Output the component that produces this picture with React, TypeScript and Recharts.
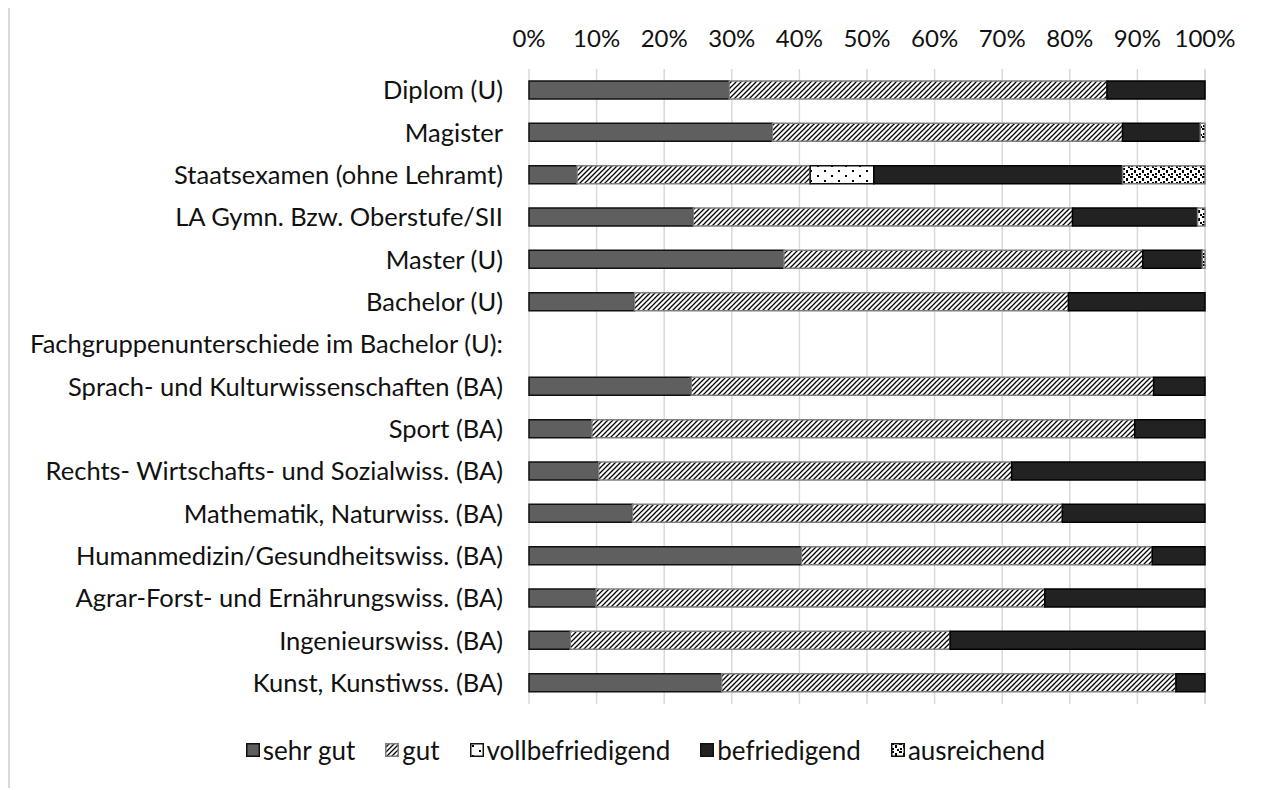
import { BarChart, Bar, XAxis, YAxis, CartesianGrid, Legend } from 'recharts'

const categories = [
  'Diplom (U)',
  'Magister',
  'Staatsexamen (ohne Lehramt)',
  'LA Gymn. Bzw. Oberstufe/SII',
  'Master (U)',
  'Bachelor (U)',
  'Fachgruppenunterschiede im Bachelor (U):',
  'Sprach- und Kulturwissenschaften (BA)',
  'Sport (BA)',
  'Rechts- Wirtschafts- und Sozialwiss. (BA)',
  'Mathematik, Naturwiss. (BA)',
  'Humanmedizin/Gesundheitswiss. (BA)',
  'Agrar-Forst- und Ernährungswiss. (BA)',
  'Ingenieurswiss. (BA)',
  'Kunst, Kunstiwss. (BA)'
]

const sehrGut = [29.6, 36.0, 7.1, 24.3, 37.7, 15.6, 0, 24.0, 9.3, 10.3, 15.3, 40.3, 9.9, 6.1, 28.5]
const gut = [55.9, 51.8, 34.5, 56.1, 53.1, 64.2, 0, 68.4, 80.3, 61.1, 63.6, 51.9, 66.4, 56.2, 67.2]
const vollbefriedigend = [0, 0, 9.4, 0, 0, 0, 0, 0, 0, 0, 0, 0, 0, 0, 0]
const befriedigend = [14.5, 11.5, 36.8, 18.5, 8.8, 20.2, 0, 7.6, 10.4, 28.6, 21.1, 7.8, 23.7, 37.7, 4.3]
const ausreichend = [0, 0.7, 12.2, 1.1, 0.4, 0, 0, 0, 0, 0, 0, 0, 0, 0, 0]

const xTicks = [0, 10, 20, 30, 40, 50, 60, 70, 80, 90, 100]

const data = categories.map((name, i) => ({
  name,
  sehrGut: sehrGut[i],
  gut: gut[i],
  vollbefriedigend: vollbefriedigend[i],
  befriedigend: befriedigend[i],
  ausreichend: ausreichend[i]
}))

const series = [
  { key: 'sehrGut', label: 'sehr gut', fill: '#5f5f5f', stroke: '#111' },
  { key: 'gut', label: 'gut', fill: 'url(#hatch)', stroke: '#808080' },
  { key: 'vollbefriedigend', label: 'vollbefriedigend', fill: 'url(#dots)', stroke: '#111' },
  { key: 'befriedigend', label: 'befriedigend', fill: '#222', stroke: '#000' },
  { key: 'ausreichend', label: 'ausreichend', fill: 'url(#checks)', stroke: '#808080' }
]

const labelFont = 'Lato, "Open Sans", sans-serif'

const LegendContent = () => (
  <div
    style={{
      display: 'flex',
      justifyContent: 'center',
      gap: 30,
      paddingLeft: 26,
      fontFamily: labelFont,
      fontSize: 26,
      color: '#111'
    }}
  >
    {series.map(s => (
      <span key={s.key} style={{ display: 'flex', alignItems: 'center' }}>
        <svg width={14} height={14} style={{ marginRight: 3 }}>
          <rect x={0.75} y={0.75} width={12.5} height={12.5} fill={s.fill} stroke={s.key === 'gut' ? '#808080' : '#111'} strokeWidth={1.5} />
        </svg>
        {s.label}
      </span>
    ))}
  </div>
)

const App = () => {
  return (
    <div
      style={{
        marginTop: -2,
        borderTop: '2px solid #d9d9d9',
        borderLeft: '2px solid #d9d9d9',
        width: 1255,
        height: 780,
        overflow: 'hidden',
        background: '#fff'
      }}
    >
      <BarChart
        width={1245}
        height={772}
        data={data}
        layout='vertical'
        margin={{ top: 0, right: 50, bottom: 76, left: 0 }}
        barSize={18}
      >
        <defs>
          <pattern id='hatch' width={5} height={5} patternUnits='userSpaceOnUse'>
            <rect width={5} height={5} fill='#fff' />
            <path d='M-1,6 L6,-1 M-1,1 L1,-1 M4,6 L6,4' stroke='#000' strokeWidth={1.3} />
          </pattern>
          <pattern id='dots' width={14} height={10} patternUnits='userSpaceOnUse'>
            <rect width={14} height={10} fill='#fff' />
            <rect x={2} y={2} width={2} height={2} fill='#000' />
            <rect x={9} y={7} width={2} height={2} fill='#000' />
          </pattern>
          <pattern id='checks' width={8} height={8} patternUnits='userSpaceOnUse'>
            <rect width={8} height={8} fill='#fff' />
            <rect x={0} y={0} width={3} height={2} fill='#000' />
            <rect x={4} y={2} width={2} height={3} fill='#000' />
            <rect x={1} y={5} width={2} height={2} fill='#000' />
            <rect x={6} y={6} width={2} height={2} fill='#000' />
          </pattern>
        </defs>
        <CartesianGrid horizontal={false} stroke='#d9d9d9' strokeWidth={1.5} />
        <XAxis
          type='number'
          orientation='top'
          domain={[0, 100]}
          ticks={xTicks}
          tickFormatter={(v: number) => `${v}%`}
          axisLine={false}
          tickLine={false}
          tickSize={0}
          tickMargin={22}
          height={61}
          tick={{ fill: '#111', fontSize: 24, fontFamily: labelFont }}
        />
        <YAxis
          type='category'
          dataKey='name'
          width={519}
          interval={0}
          axisLine={false}
          tickLine={false}
          tickSize={0}
          tickMargin={26}
          tick={{ fill: '#111', fontSize: 25.5, fontFamily: labelFont }}
        />
        <Legend
          verticalAlign='middle'
          layout='horizontal'
          content={<LegendContent />}
          wrapperStyle={{ top: 726, left: 0, width: 1245 }}
        />
        {series.map(s => (
          <Bar
            key={s.key}
            dataKey={s.key}
            stackId='a'
            fill={s.fill}
            stroke={s.stroke}
            strokeWidth={1.5}
            name={s.label}
            isAnimationActive={false}
          />
        ))}
      </BarChart>
    </div>
  )
}

export default App
